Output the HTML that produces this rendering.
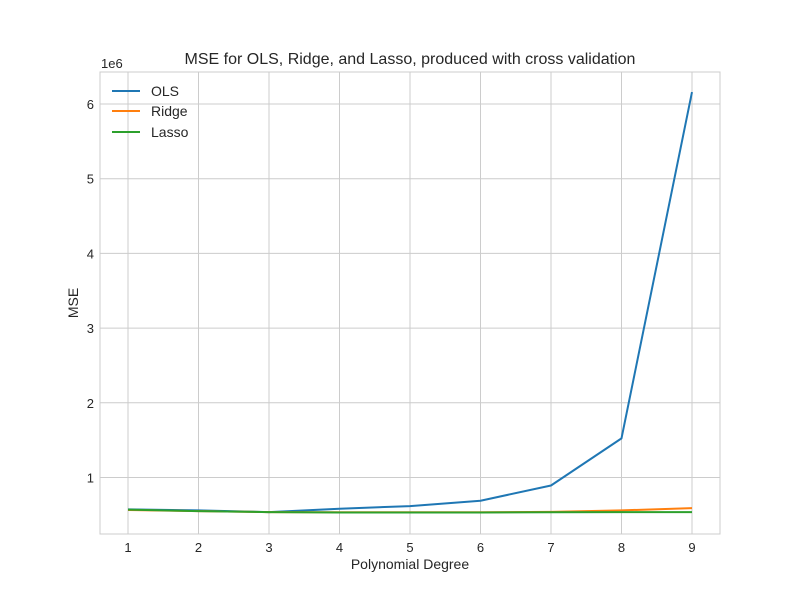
<!DOCTYPE html>
<html><head><meta charset="utf-8"><style>
body{margin:0;background:#fff;}
svg text{font-family:"Liberation Sans",sans-serif;fill:#262626;}
</style></head><body>
<svg id="chart" width="800" height="600">
<rect x="0" y="0" width="800" height="600" fill="#fff"/>
<g id="grid"></g>
<g id="lines"></g>
<rect x="100" y="72" width="620" height="462" fill="none" stroke="#cccccc" stroke-width="1"/>
<g id="ticks"></g>
<text x="410" y="64" font-size="16" text-anchor="middle">MSE for OLS, Ridge, and Lasso, produced with cross validation</text>
<text x="410" y="569" font-size="14" text-anchor="middle">Polynomial Degree</text>
<text x="78" y="303" font-size="14" text-anchor="middle" transform="rotate(-90 78 303)">MSE</text>
<text x="101" y="68" font-size="13">1e6</text>
<g id="legend">
<line x1="112" y1="91" x2="140" y2="91" stroke="#1f77b4" stroke-width="2"/>
<text x="151" y="96" font-size="14">OLS</text>
<line x1="112" y1="111" x2="140" y2="111" stroke="#ff7f0e" stroke-width="2"/>
<text x="151" y="116" font-size="14">Ridge</text>
<line x1="112" y1="132" x2="140" y2="132" stroke="#2ca02c" stroke-width="2"/>
<text x="151" y="137" font-size="14">Lasso</text>
</g>
</svg>
<script>
const degrees=[1,2,3,4,5,6,7,8,9];
const olsValues=[0.573,0.56,0.537,0.582,0.617,0.689,0.893,1.524,6.16];
const ridgeValues=[0.565,0.55,0.537,0.535,0.535,0.535,0.54,0.56,0.59];
const lassoValues=[0.57,0.55,0.537,0.532,0.532,0.532,0.535,0.537,0.537];
const yTicks=[1,2,3,4,5,6];
const NS="http://www.w3.org/2000/svg";
function xs(v){return 128+(v-1)*70.5;}
function ys(v){return 552.2-v*74.7;}
const grid=document.getElementById('grid'),ticks=document.getElementById('ticks'),lines=document.getElementById('lines');
function mk(tag,attrs,parent){const e=document.createElementNS(NS,tag);for(const k in attrs)e.setAttribute(k,attrs[k]);parent.appendChild(e);return e;}
degrees.forEach(d=>{
  const g=mk('line',{x1:xs(d),x2:xs(d),y1:72,y2:534,stroke:'#cccccc','stroke-width':1},grid);
  
  
  const t=mk('text',{x:xs(d),y:552,'font-size':13,'text-anchor':'middle'},ticks);
  t.textContent=d;
  
  
});
yTicks.forEach(v=>{
  const g=mk('line',{x1:100,x2:720,y1:ys(v),y2:ys(v),stroke:'#cccccc','stroke-width':1},grid);
  
  
  const t=mk('text',{x:94,y:ys(v)+5,'font-size':13,'text-anchor':'end'},ticks);
  t.textContent=v;
  
  
});
[[olsValues,'#1f77b4','ols-line'],[ridgeValues,'#ff7f0e','ridge-line'],[lassoValues,'#2ca02c','lasso-line']].forEach(([vals,c,n])=>{
  const p=mk('polyline',{points:vals.map((v,i)=>xs(degrees[i])+','+ys(v)).join(' '),fill:'none',stroke:c,'stroke-width':2,'stroke-linejoin':'round'},lines);
  
  
});
</script>
</body></html>
